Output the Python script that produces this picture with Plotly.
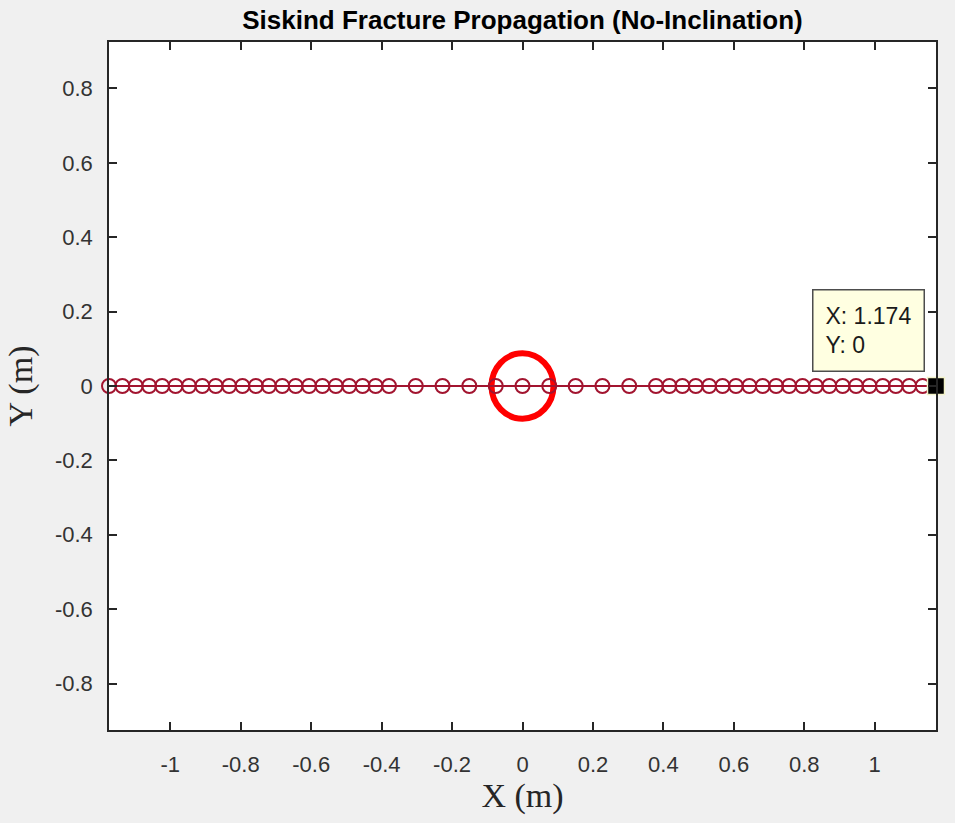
import plotly.graph_objects as go

# ---- data ----
x_pos = [0.076, 0.151, 0.227, 0.303, 0.379, 0.417, 0.454, 0.492, 0.530, 0.568,
         0.606, 0.644, 0.682, 0.720, 0.757, 0.795, 0.833, 0.871, 0.909, 0.947,
         0.985, 1.023, 1.060, 1.098, 1.136, 1.174]
x_neg = [-v for v in reversed(x_pos)]
crack_x = x_neg + [0.0] + x_pos
crack_y = [0.0] * len(crack_x)

borehole_center = (0.0, 0.0)
borehole_radius = 0.088

tip_x = 1.174
tip_y = 0.0

x_ticks = [-1, -0.8, -0.6, -0.4, -0.2, 0, 0.2, 0.4, 0.6, 0.8, 1]
x_ticktext = ["-1", "-0.8", "-0.6", "-0.4", "-0.2", "0", "0.2", "0.4", "0.6", "0.8", "1"]
y_ticks = [-0.8, -0.6, -0.4, -0.2, 0, 0.2, 0.4, 0.6, 0.8]
y_ticktext = ["-0.8", "-0.6", "-0.4", "-0.2", "0", "0.2", "0.4", "0.6", "0.8"]

x_range = [-1.174, 1.174]
y_range = [-0.925, 0.925]

# ---- style ----
CRACK = "#a2142f"
AXC = "#262626"
TICKC = "#333333"
SANS = "Liberation Sans, Arial, Helvetica, sans-serif"
SERIF = "Liberation Serif, Times New Roman, serif"

fig = go.Figure()

fig.add_trace(go.Scatter(
    x=crack_x, y=crack_y, mode="lines+markers",
    line=dict(color=CRACK, width=2),
    marker=dict(symbol="circle-open", size=14, color=CRACK, line=dict(width=2)),
    cliponaxis=False, showlegend=False, hoverinfo="skip",
))

cx, cy = borehole_center
fig.add_shape(type="circle", xref="x", yref="y",
              x0=cx - borehole_radius, x1=cx + borehole_radius,
              y0=cy - borehole_radius, y1=cy + borehole_radius,
              line=dict(color="#ff0000", width=6), layer="below")

# datatip marker
fig.add_trace(go.Scatter(
    x=[tip_x], y=[tip_y], mode="markers",
    marker=dict(symbol="square", size=17, color="black",
                line=dict(color="#f2f2c8", width=1.5)),
    cliponaxis=False, showlegend=False, hoverinfo="skip",
))

fig.add_annotation(
    x=tip_x, y=tip_y, xref="x", yref="y",
    text=f"X: {tip_x:g}<br>Y: {tip_y:g}",
    showarrow=False, xanchor="right", yanchor="bottom",
    xshift=-11, yshift=14, align="left",
    font=dict(family=SANS, size=23, color="#1a1a1a"),
    bgcolor="#ffffe1", bordercolor="#4d4d4d", borderwidth=1.5, borderpad=12,
)

axis_common = dict(
    showgrid=False, zeroline=False, showline=True, linecolor=AXC, linewidth=1.5,
    mirror="ticks", ticks="inside", ticklen=8, tickwidth=1.5, tickcolor=AXC,
    tickfont=dict(family=SANS, size=22, color=TICKC),
)

fig.update_xaxes(range=x_range, tickmode="array", tickvals=x_ticks, ticktext=x_ticktext,
                 ticklabelstandoff=14,
                 title=dict(text="X (m)", font=dict(family=SERIF, size=34, color=AXC), standoff=6),
                 **axis_common)
fig.update_yaxes(range=y_range, tickmode="array", tickvals=y_ticks, ticktext=y_ticktext,
                 ticklabelstandoff=10,
                 title=dict(text="Y (m)", font=dict(family=SERIF, size=34, color=AXC), standoff=12),
                 **axis_common)

fig.update_layout(
    width=955, height=823,
    margin=dict(l=109, r=19, t=42, b=93, pad=0),
    paper_bgcolor="#f0f0f0", plot_bgcolor="white",
    title=dict(text="<b>Siskind Fracture Propagation (No-Inclination)</b>",
               x=0.5, xref="paper", xanchor="center",
               y=1 - 20 / 823, yref="container", yanchor="middle",
               font=dict(family=SANS, size=26, color="black")),
)

fig.write_html("out.html")
